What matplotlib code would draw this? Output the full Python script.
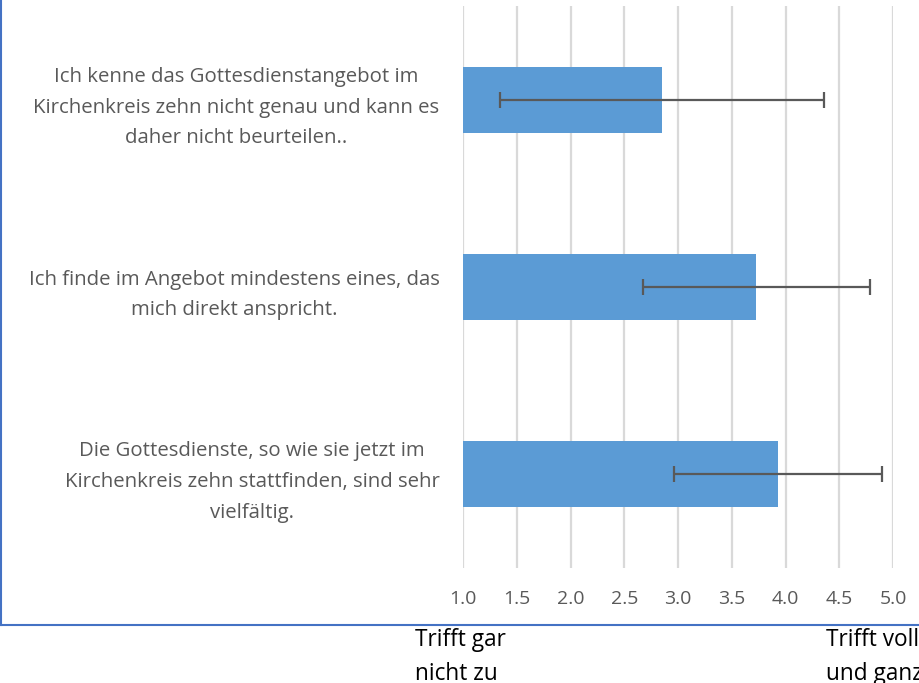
"""Horizontal bar chart of mean agreement with standard deviation error bars."""

import matplotlib.pyplot as plt
from matplotlib.lines import Line2D

# Data
statements = [
    "Ich kenne das Gottesdienstangebot im\nKirchenkreis zehn nicht genau und kann es\ndaher nicht beurteilen..",
    "Ich finde im Angebot mindestens eines, das\nmich direkt anspricht.",
    "Die Gottesdienste, so wie sie jetzt im\nKirchenkreis zehn stattfinden, sind sehr\nvielfältig.",
]
means = [2.85, 3.73, 3.93]
std_devs = [1.51, 1.06, 0.965]
x_ticks = [1.0, 1.5, 2.0, 2.5, 3.0, 3.5, 4.0, 4.5, 5.0]
scale_low = "Trifft gar\nnicht zu"
scale_high = "Trifft voll\nund ganz"

BAR_COLOR = "#5B9BD5"
GREY = "#595959"
GRID = "#D9D9D9"
BORDER = "#4472C4"

plt.rcParams["font.family"] = ["Open Sans", "DejaVu Sans"]

W, H = 920, 683
fig = plt.figure(figsize=(W / 100, H / 100), dpi=100)
ax = fig.add_axes([463 / W, 1 - 568 / H, (893 - 463) / W, (568 - 6) / H])

positions = list(range(len(statements)))
ax.barh(positions, [m - 1.0 for m in means], left=1.0, height=0.353,
        color=BAR_COLOR, zorder=2)
ax.errorbar(means, positions, xerr=std_devs, fmt="none", ecolor=GREY,
            elinewidth=1.6, capsize=5.5, capthick=1.6, zorder=3)

ax.set_xlim(1.0, 5.0)
ax.set_ylim(len(statements) - 0.5, -0.5)
ax.set_xticks(x_ticks, [f"{t:.1f}" for t in x_ticks])
ax.set_yticks(positions, statements)
ax.xaxis.grid(True, color=GRID, linewidth=1.6, zorder=0)
ax.set_axisbelow(True)
for side in ax.spines.values():
    side.set_visible(False)
ax.tick_params(axis="x", length=0, pad=16, labelsize=14, labelcolor=GREY)
ax.tick_params(axis="y", length=0, pad=17, labelsize=14.7, labelcolor=GREY)
for label in ax.get_yticklabels():
    label.set_multialignment("center")
    label.set_linespacing(1.72)

# partial chart-area border (left and bottom)
fig.add_artist(Line2D([1.5 / W, 1.5 / W], [1 - 625 / H, 1.0], color=BORDER,
                      linewidth=1.5))
fig.add_artist(Line2D([0, 1], [1 - 625 / H, 1 - 625 / H], color=BORDER,
                      linewidth=1.5))

fig.text(415 / W, 1 - 657 / H, scale_low, ha="left", va="center",
         fontsize=16.3, color="black", linespacing=1.55)
fig.text(826 / W, 1 - 657 / H, scale_high, ha="left", va="center",
         fontsize=16.3, color="black", linespacing=1.55)

fig.savefig("out.png", dpi=100)
